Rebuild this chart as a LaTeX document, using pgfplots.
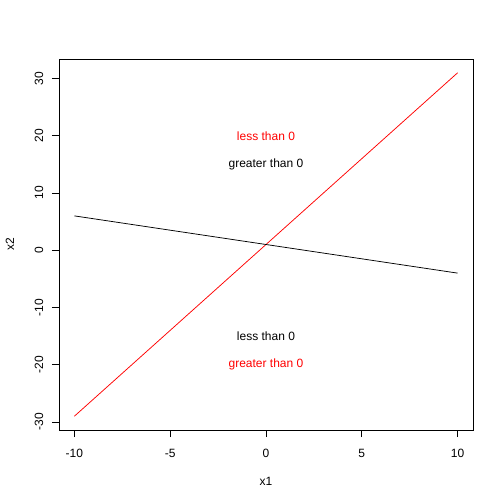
\documentclass[border=0pt]{standalone}
\usepackage{fontspec}
\setmainfont{Liberation Sans}
\usepackage{pgfplots}
\pgfplotsset{compat=1.18}
\begin{document}
\begin{tikzpicture}
\path[use as bounding box] (0pt,0pt) rectangle (504pt,504pt);
\begin{axis}[
  at={(59pt,74pt)}, anchor=south west, scale only axis,
  width=414pt, height=371pt,
  xmin=-10.8, xmax=10.8, ymin=-31.4, ymax=33.4,
  axis line style={line width=0.75pt},
  every tick/.style={black, line width=0.75pt},
  tick align=outside, major tick length=7pt,
  xtick pos=bottom, ytick pos=left,
  xtick={-10,-5,0,5,10}, ytick={-30,-20,...,30},
  /pgf/number format/assume math mode=true,
  ticklabel style={font=\fontsize{12}{14}\selectfont, inner sep=0pt},
  xticklabel style={anchor=center, yshift=-16.5pt},
  yticklabel style={rotate=90, anchor=center, yshift=13pt},
  xlabel={x1}, ylabel={x2},
  label style={font=\fontsize{12}{14}\selectfont},
  xlabel style={at={(axis description cs:0.5,0)}, anchor=center, yshift=-51pt},
  ylabel style={at={(axis description cs:0,0.5)}, anchor=center, yshift=49pt},
]
\addplot[red, line width=0.75pt] coordinates {(-10,-29) (10,31)};
\addplot[black, line width=0.75pt] coordinates {(-10,6) (10,-4)};
\node[red, font=\fontsize{12}{14}\selectfont] at (axis cs:0,20) {less than 0};
\node[black, font=\fontsize{12}{14}\selectfont] at (axis cs:0,15) {greater than 0};
\node[black, font=\fontsize{12}{14}\selectfont] at (axis cs:0,-15) {less than 0};
\node[red, font=\fontsize{12}{14}\selectfont] at (axis cs:0,-20) {greater than 0};
\end{axis}
\end{tikzpicture}
\end{document}
